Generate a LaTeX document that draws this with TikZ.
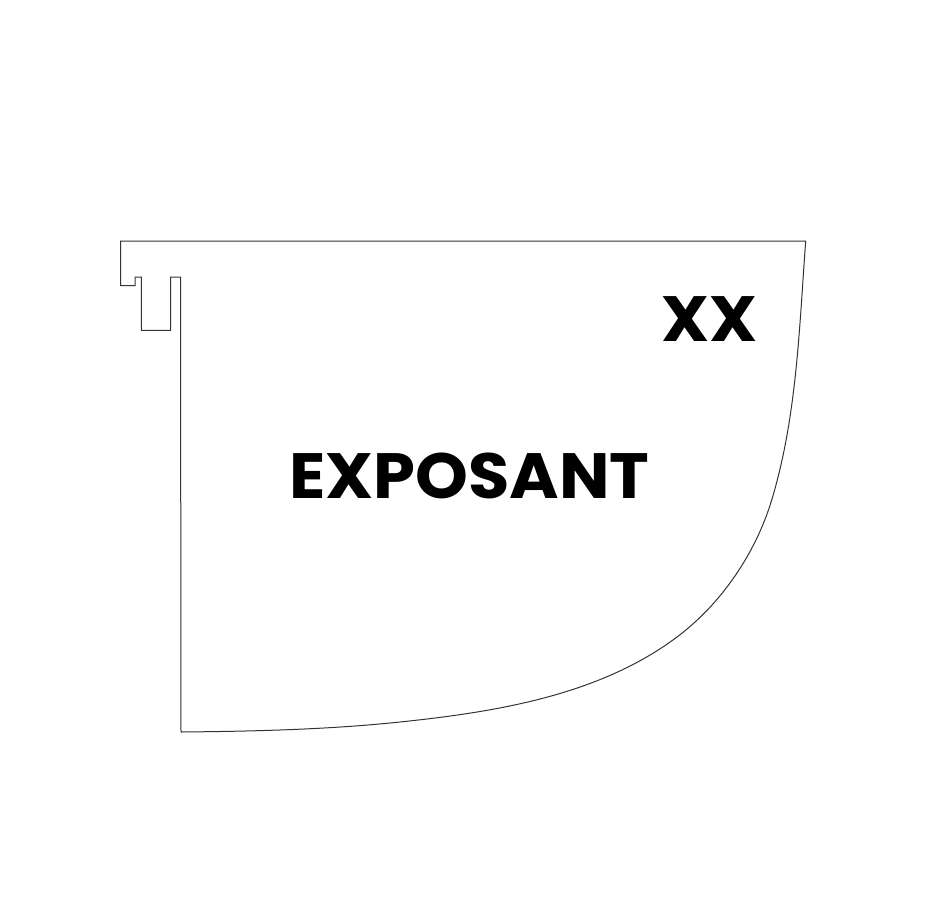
\documentclass[tikz,border=0pt]{standalone}
\usepackage{fontspec}
\setmainfont{Poppins}
\begin{document}
\begin{tikzpicture}[x=1pt,y=-1pt,
  outline/.style={draw=black!80,line width=1pt,line join=miter},
  label/.style={inner sep=0pt,anchor=base west,xscale=1.05,font=\bfseries\fontsize{64}{64}\selectfont}]
\useasboundingbox (0,0) rectangle (926,899);
\draw[outline] (805.7,241)
  .. controls (799.2,328) and (796.9,416.5) .. (771.7,500)
  .. controls (755.6,553.3) and (721.4,603.7) .. (677,637)
  .. controls (599.4,695.2) and (496.5,711.9) .. (400,722)
  .. controls (327.4,729.6) and (254,731.3) .. (181,732)
  -- (180.5,277) -- (170.7,277) -- (170.7,330.3) -- (141.3,330.3) -- (141.3,277) -- (135,277) -- (135,285.7) -- (120.7,285.7) -- (120.7,241) -- cycle;
\node[label] (expo) at (289,498) {EXPOSANT};
\node[label] (xx) at (661,341.7) {XX};
\end{tikzpicture}
\end{document}
